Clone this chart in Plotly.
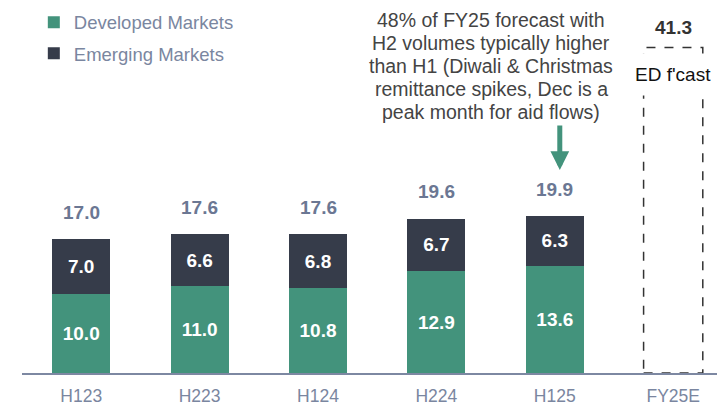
import plotly.graph_objects as go

categories = ["H123", "H223", "H124", "H224", "H125", "FY25E"]
developed = [10.0, 11.0, 10.8, 12.9, 13.6, None]
emerging = [7.0, 6.6, 6.8, 6.7, 6.3, None]
totals = [17.0, 17.6, 17.6, 19.6, 19.9, 41.3]

GREEN = "#43937c"
DARK = "#363c4a"
SLATE = "#6b7793"
LIGHT = "#7a86a0"
FONT = "Arial, Liberation Sans, sans-serif"
W, H, L = 717, 405, 22

fig = go.Figure()
fig.add_trace(go.Bar(
    x=categories, y=developed, name="Developed Markets",
    marker=dict(color=GREEN, line=dict(width=0)),
    text=[f"<b>{v:.1f}</b>" if v is not None else "" for v in developed],
    textposition="inside", insidetextanchor="middle",
    textfont=dict(color="white", size=19, family=FONT),
    width=0.49, legendgroup="d",
))
fig.add_trace(go.Bar(
    x=categories, y=emerging, name="Emerging Markets",
    marker=dict(color=DARK, line=dict(width=0)),
    text=[f"<b>{v:.1f}</b>" if v is not None else "" for v in emerging],
    textposition="inside", insidetextanchor="middle",
    textfont=dict(color="white", size=19, family=FONT),
    width=0.49, legendgroup="e",
))

# total labels
for i, (c, t) in enumerate(zip(categories, totals)):
    last = i == len(categories) - 1
    fig.add_annotation(x=c, y=t, text=f"<b>{t:.1f}</b>", showarrow=False,
                       yshift=20 if last else 27, yanchor="middle",
                       font=dict(size=19, color="#333333" if last else SLATE, family=FONT))

# forecast dashed box
fi = len(categories) - 1
fig.add_shape(type="rect", xref="x", yref="y",
              x0=fi - 0.25, x1=fi + 0.25, y0=0, y1=totals[fi],
              line=dict(color="#333333", width=1.5, dash="dash"),
              fillcolor="rgba(0,0,0,0)", layer="above")
fig.add_annotation(x=categories[fi], y=0.80, yref="paper", text="ED f'cast",
                   showarrow=False, yanchor="middle", bgcolor="white",
                   borderpad=10, font=dict(size=19, color="#111111", family=FONT))

# commentary
note_lines = ["48% of FY25 forecast with", "H2 volumes typically higher",
              "than H1 (Diwali & Christmas", "remittance spikes, Dec is a",
              "peak month for aid flows)"]
for k, line in enumerate(note_lines):
    fig.add_annotation(x=(491 - L) / (W - L), xref="paper", y=1, yref="paper",
                       text=line, showarrow=False, yanchor="middle",
                       xanchor="center", yshift=-20 - 23 * k,
                       font=dict(size=19.5, color="#444444", family=FONT))

fig.add_annotation(x=categories[4], y=(373 - 170) / 373, yref="paper", xshift=5,
                   ax=0, ay=-46, showarrow=True, arrowhead=2, arrowsize=0.75,
                   arrowwidth=5, arrowcolor=GREEN, standoff=0, text="")

fig.update_layout(
    barmode="stack",
    width=W, height=H,
    margin=dict(l=L, r=0, t=0, b=32),
    plot_bgcolor="white", paper_bgcolor="white",
    font=dict(family=FONT),
    showlegend=True,
    legend=dict(x=0.017, y=0.99, xanchor="left", yanchor="top",
                traceorder="grouped", tracegroupgap=4,
                font=dict(size=18.5, color=LIGHT, family=FONT),
                itemwidth=30, bgcolor="rgba(0,0,0,0)"),
    xaxis=dict(range=[-0.5, 5.37], showline=True, linecolor="#7d88a2", linewidth=2,
               ticks="outside", ticklen=6, tickcolor="rgba(0,0,0,0)",
               tickfont=dict(size=17.5, color=LIGHT, family=FONT),
               showgrid=False, zeroline=False, fixedrange=True),
    yaxis=dict(range=[0, 47.33], visible=False, showgrid=False, fixedrange=True),
)

fig.write_html("out.html", config={"displayModeBar": False},
               post_script="document.body.style.margin='0';document.body.style.overflow='hidden';")
